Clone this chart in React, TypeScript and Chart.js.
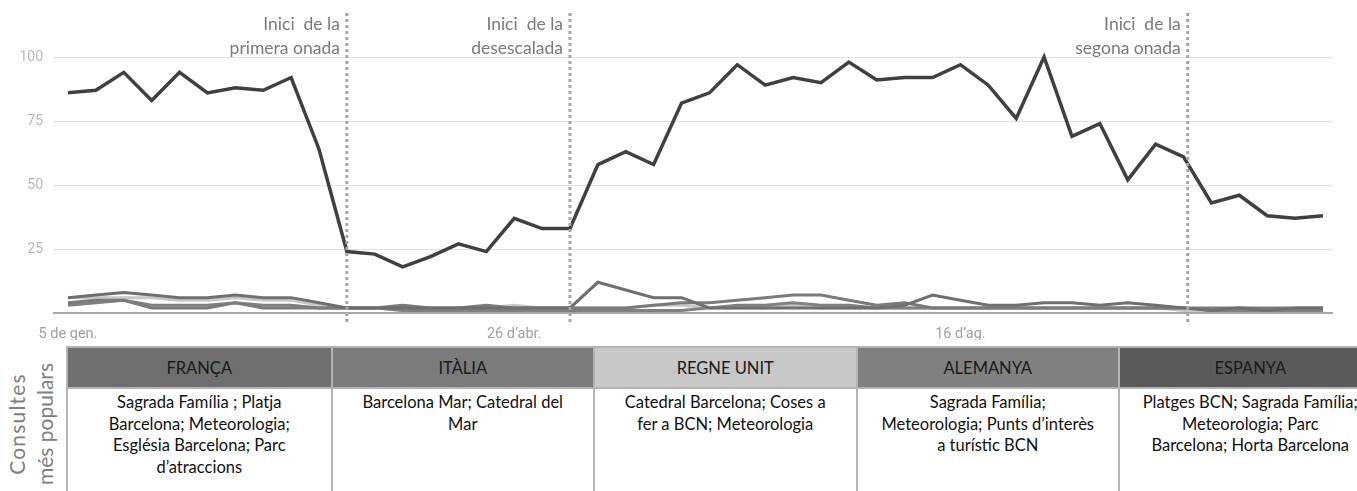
import React, { useEffect, useRef } from "react";
import { Chart, registerables } from "chart.js";

Chart.register(...registerables);

// ---- data ----
const espanya = [86, 87, 94, 83, 94, 86, 88, 87, 92, 64, 24, 23, 18, 22, 27, 24, 37, 33, 33, 58, 63, 58, 82, 86, 97, 89, 92, 90, 98, 91, 92, 92, 97, 89, 76, 100, 69, 74, 52, 66, 61, 43, 46, 38, 37, 38];
const franca = [6, 7, 8, 7, 6, 6, 7, 6, 6, 4, 2, 2, 2, 2, 2, 2, 2, 2, 2, 12, 9, 6, 6, 2, 2, 2, 2, 2, 2, 2, 3, 7, 5, 3, 3, 4, 4, 3, 4, 3, 2, 1, 2, 1, 2, 2];
const italia = [4, 5, 5, 2, 2, 2, 4, 2, 2, 2, 2, 2, 3, 2, 2, 3, 2, 2, 2, 2, 2, 3, 4, 4, 5, 6, 7, 7, 5, 3, 4, 2, 2, 2, 2, 2, 2, 2, 2, 2, 2, 2, 2, 2, 2, 2];
const regneUnit = [6, 6, 6, 6, 5, 5, 6, 5, 5, 3, 2, 2, 1, 1, 2, 2, 3, 2, 2, 2, 2, 3, 3, 2, 2, 2, 3, 2, 2, 2, 2, 2, 2, 2, 2, 2, 2, 2, 2, 2, 1, 1, 1, 1, 1, 1];
const alemanya = [3, 4, 5, 3, 3, 3, 4, 3, 3, 2, 2, 2, 1, 1, 1, 1, 1, 1, 1, 1, 1, 1, 1, 2, 3, 3, 4, 3, 3, 2, 2, 2, 2, 2, 2, 2, 2, 2, 2, 2, 2, 1, 1, 1, 1, 1];

const xTickIndex = [0, 16, 32];
const xTickLabels = ["5 de gen.", "26 d’abr.", "16 d’ag."];
const yTicks = [0, 25, 50, 75, 100];

const eventIndex = [10, 18, 40.15];
const eventLabels = [
  ["Inici  de la", "primera onada"],
  ["Inici  de la", "desescalada"],
  ["Inici  de la", "segona onada"],
];

const countries = ["FRANÇA", "ITÀLIA", "REGNE UNIT", "ALEMANYA", "ESPANYA"];
const headerColors = ["#6f6f6f", "#7b7b7b", "#c8c8c8", "#808080", "#5a5a5a"];
const queries = [
  ["Sagrada Família ; Platja", "Barcelona; Meteorologia;", "Església Barcelona; Parc", "d’atraccions"],
  ["Barcelona Mar; Catedral del", "Mar"],
  ["Catedral Barcelona; Coses a", "fer a BCN; Meteorologia"],
  ["Sagrada Família;", "Meteorologia; Punts d’interès", "a turístic BCN"],
  ["Platges BCN; Sagrada Família;", "Meteorologia; Parc", "Barcelona; Horta Barcelona"],
];

const toXY = (arr: number[]) => arr.map((v, i) => ({ x: i, y: v }));

const eventPlugin = {
  id: "events",
  afterDatasetsDraw(chart: any) {
    const { ctx, chartArea, scales } = chart;
    ctx.save();
    eventIndex.forEach((idx, k) => {
      const x = scales.x.getPixelForValue(idx);
      ctx.strokeStyle = "#a6a6a6";
      ctx.lineWidth = 3;
      ctx.setLineDash([3, 3]);
      ctx.beginPath();
      ctx.moveTo(x, chartArea.top);
      ctx.lineTo(x, chartArea.bottom + 11);
      ctx.stroke();
      ctx.setLineDash([]);
      ctx.fillStyle = "#7a7a7a";
      ctx.font = "17.5px Lato";
      ctx.textAlign = "right";
      ctx.textBaseline = "middle";
      ctx.fillText(eventLabels[k][0], x - 7, chartArea.top + 11);
      ctx.fillText(eventLabels[k][1], x - 7, chartArea.top + 35);
    });
    ctx.restore();
  },
};

function LineChart() {
  const ref = useRef<HTMLCanvasElement>(null);
  useEffect(() => {
    if (!ref.current) return;
    const ds = (label: string, data: number[], color: string, w: number) => ({
      label,
      data: toXY(data),
      borderColor: color,
      backgroundColor: color,
      borderWidth: w,
      pointRadius: 0,
      tension: 0,
    });
    const chart = new Chart(ref.current, {
      type: "line",
      data: {
        datasets: [
          ds("Espanya", espanya, "#404040", 3.5),
          ds("França", franca, "#6f6f6f", 3),
          ds("Itàlia", italia, "#7b7b7b", 3),
          ds("Alemanya", alemanya, "#808080", 3),
          ds("Regne Unit", regneUnit, "#c8c8c8", 3),
        ],
      },
      options: {
        animation: false,
        responsive: false,
        maintainAspectRatio: false,
        layout: { padding: { left: 0, right: 24, top: 13, bottom: 0 } },
        plugins: { legend: { display: false }, tooltip: { enabled: false } },
        scales: {
          x: {
            type: "linear",
            min: -0.538,
            max: 45.36,
            grid: { display: false },
            border: { display: false },
            afterBuildTicks: (s: any) => {
              s.ticks = xTickIndex.map((v) => ({ value: v }));
            },
            afterFit: (s: any) => {
              s.height = 27;
              s.paddingLeft = 0;
              s.paddingRight = 0;
            },
            ticks: {
              color: "#a0a0a0",
              font: { family: "Roboto", size: 14.5 },
              padding: 5,
              maxRotation: 0,
              autoSkip: false,
              callback: (v: any) => {
                const i = xTickIndex.indexOf(Number(v));
                return i >= 0 ? xTickLabels[i] : "";
              },
            },
          },
          y: {
            min: 0,
            max: 117.2,
            border: { display: false },
            afterBuildTicks: (s: any) => {
              s.ticks = yTicks.map((v) => ({ value: v }));
            },
            afterFit: (s: any) => {
              s.width = 53;
              s.paddingTop = 0;
              s.paddingBottom = 0;
            },
            grid: {
              drawTicks: false,
              color: (c: any) => (c.tick && c.tick.value === 0 ? "#a9a9a9" : "#e2e2e2"),
              lineWidth: (c: any) => (c.tick && c.tick.value === 0 ? 2 : 1),
            },
            ticks: {
              color: "#b8b8b8",
              font: { family: "Roboto", size: 14 },
              padding: 10,
              callback: (v: any) => (Number(v) === 0 ? "" : String(v)),
            },
          },
        },
      },
      plugins: [eventPlugin],
    });
    return () => chart.destroy();
  }, []);
  return <canvas ref={ref} width={1357} height={340} style={{ position: "absolute", left: 0, top: 0 }} />;
}

export default function App() {
  const colW = 262.5;
  return (
    <div style={{ position: "fixed", left: 0, top: 0, width: 1357, height: 491, overflow: "hidden", background: "#fff", fontFamily: "Lato" }}>
      <LineChart />
      <div
        style={{
          position: "absolute",
          left: 31 - 75,
          top: 424 - 28,
          width: 150,
          height: 56,
          transform: "rotate(-90deg)",
          transformOrigin: "center",
          textAlign: "center",
          color: "#808080",
          fontSize: 21,
          lineHeight: "28px",
          whiteSpace: "nowrap",
        }}
      >
        <div style={{ letterSpacing: 1.2 }}>Consultes</div>
        <div>més populars</div>
      </div>
      <div style={{ position: "absolute", left: 66, top: 346, width: colW * 5, height: 160, border: "2px solid #b4b4b4", boxSizing: "border-box", display: "flex" }}>
        {countries.map((c, i) => (
          <div key={c} style={{ width: colW, flex: "none", borderLeft: i > 0 ? "2px solid #b4b4b4" : "none", boxSizing: "border-box", display: "flex", flexDirection: "column" }}>
            <div style={{ height: 41, background: headerColors[i], borderBottom: "2px solid #b4b4b4", boxSizing: "border-box", color: "#1a1a1a", fontSize: 16.5, display: "flex", alignItems: "center", justifyContent: "center" }}>
              {c}
            </div>
            <div style={{ paddingTop: 3, textAlign: "center", fontSize: 16.5, lineHeight: "21.7px", color: "#111", whiteSpace: "nowrap" }}>
              {queries[i].map((l, j) => (
                <div key={j}>{l}</div>
              ))}
            </div>
          </div>
        ))}
      </div>
    </div>
  );
}
